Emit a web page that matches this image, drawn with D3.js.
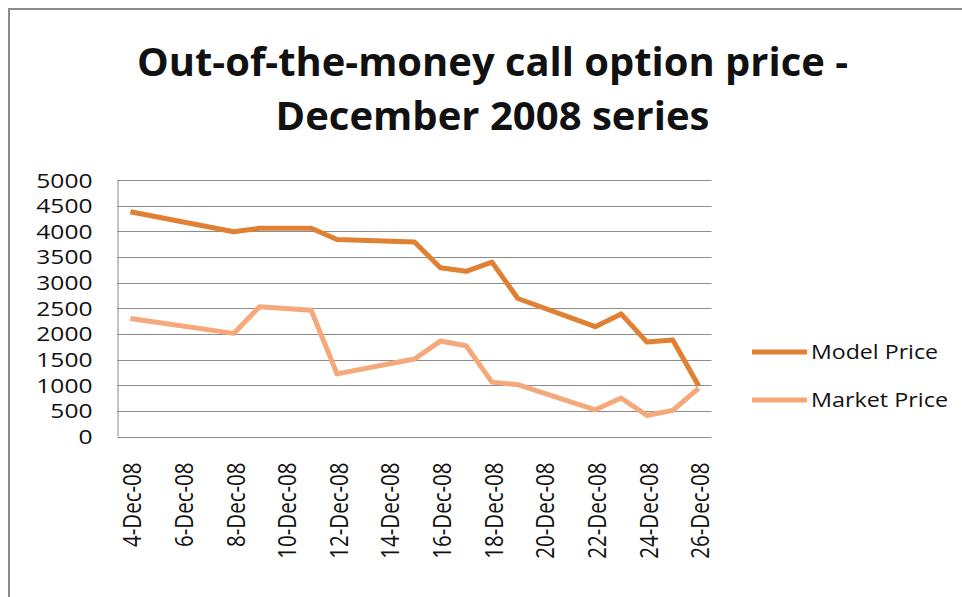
<!DOCTYPE html>
<html>
<head>
<meta charset="utf-8">
<script src="https://cdn.jsdelivr.net/npm/d3@7"></script>
<style>
	body { margin: 0; background: #fff; }
	text { font-family: "Open Sans", sans-serif; fill: #111; }
</style>
</head>
<body>
<div id="chart"></div>
<script>

// trading days shown on the chart
let dates = ["2008-12-04", "2008-12-08", "2008-12-09", "2008-12-11", "2008-12-12",
	"2008-12-15", "2008-12-16", "2008-12-17", "2008-12-18", "2008-12-19",
	"2008-12-22", "2008-12-23", "2008-12-24", "2008-12-25", "2008-12-26"];

let modelPrice = [4380, 3990, 4060, 4060, 3840, 3790, 3290, 3220, 3400, 2690, 2140, 2390, 1840, 1880, 990];
let marketPrice = [2300, 2010, 2530, 2460, 1220, 1510, 1860, 1770, 1060, 1010, 520, 750, 410, 510, 940];

let seriesNames = ["Model Price", "Market Price"];
let seriesColors = ["#E08033", "#F5A97B"];

let yTicks = [0, 500, 1000, 1500, 2000, 2500, 3000, 3500, 4000, 4500, 5000];
let xTickDays = ["2008-12-04", "2008-12-06", "2008-12-08", "2008-12-10", "2008-12-12", "2008-12-14",
	"2008-12-16", "2008-12-18", "2008-12-20", "2008-12-22", "2008-12-24", "2008-12-26"];

let titleLines = ["Out-of-the-money call option price -", "December 2008 series"];

let parseDay = d3.timeParse("%Y-%m-%d");
// each day is a category: put marks in the middle of it
let midDay = d => d3.timeHour.offset(parseDay(d), 12);

let width = 962, height = 597;
let plot = {left: 117.5, right: 711.5, top: 180, bottom: 436.5};
let stretch = 1.26;

let svg = d3.select("#chart").append("svg")
	.attr("width", width)
	.attr("height", height);

// outer chart border (runs off the page on the right/bottom)
svg.append("path")
	.attr("d", "M9," + height + " V9 H" + width)
	.attr("fill", "none")
	.attr("stroke", "#8a8a8a")
	.attr("stroke-width", 2);

// title
let titleBase = [76, 130];
let titleWidth = [711, 434];
svg.selectAll("text.title")
	.data(titleLines)
	.enter()
	.append("text")
	.attr("class", "title")
	.attr("x", 492.5)
	.attr("y", (d, i) => titleBase[i])
	.attr("text-anchor", "middle")
	.attr("textLength", (d, i) => titleWidth[i])
	.attr("lengthAdjust", "spacingAndGlyphs")
	.style("font-size", "39px")
	.style("font-weight", "bold")
	.text(d => d);

let x = d3.scaleTime()
	.domain([parseDay("2008-12-04"), parseDay("2008-12-27")])
	.range([plot.left, plot.right]);

let y = d3.scaleLinear()
	.domain([0, 5000])
	.range([plot.bottom, plot.top]);

// gridlines
svg.append("g")
	.selectAll("line")
	.data(yTicks)
	.enter()
	.append("line")
	.attr("x1", plot.left)
	.attr("x2", plot.right)
	.attr("y1", d => Math.round(y(d)) + 0.5)
	.attr("y2", d => Math.round(y(d)) + 0.5)
	.attr("stroke", "#8c8c8c")
	.attr("stroke-width", 1);

// y axis
let yAxis = d3.axisLeft(y)
	.tickValues(yTicks)
	.tickSize(0)
	.tickFormat(d3.format("d"));

let yAxisGroup = svg.append("g")
	.attr("class", "y-axis")
	.attr("transform", "translate(" + plot.left + ",0)")
	.call(yAxis);

yAxisGroup.select(".domain")
	.attr("stroke", "#8c8c8c")
	.attr("d", "M0.5," + plot.top + "V" + plot.bottom);

yAxisGroup.selectAll("text")
	.attr("x", -25 / stretch)
	.attr("dy", "0.36em")
	.attr("transform", "scale(" + stretch + ",1)")
	.style("font-size", "19.5px")
	.style("fill", "#111");

// x axis labels
let xAxis = d3.axisBottom(x)
	.tickValues(xTickDays.map(midDay))
	.tickSize(0)
	.tickFormat(d3.timeFormat("%-d-%b-%y"));

let xAxisGroup = svg.append("g")
	.attr("class", "x-axis")
	.attr("transform", "translate(0," + plot.bottom + ")")
	.call(xAxis);

xAxisGroup.select(".domain").remove();

xAxisGroup.selectAll("text")
	.attr("x", 0)
	.attr("y", 0)
	.attr("dy", "0.36em")
	.attr("text-anchor", "end")
	.attr("transform", "translate(1,26) scale(" + stretch + ",1) rotate(-90)")
	.style("font-size", "20.5px")
	.style("fill", "#111");

// lines
let seriesData = [modelPrice, marketPrice];
let line = d3.line()
	.x((d, i) => x(midDay(dates[i])))
	.y(d => y(d));

svg.selectAll("path.series")
	.data(seriesData)
	.enter()
	.append("path")
	.attr("class", "series")
	.attr("fill", "none")
	.attr("stroke", (d, i) => seriesColors[i])
	.attr("stroke-width", 5)
	.attr("stroke-linejoin", "round")
	.attr("d", d => line(d));

// legend
let legendY = [352, 400];
let legendWidth = [127, 137];
let legend = svg.selectAll("g.legend")
	.data(seriesNames)
	.enter()
	.append("g")
	.attr("class", "legend")
	.attr("transform", (d, i) => "translate(752," + legendY[i] + ")");

legend.append("line")
	.attr("x1", 0)
	.attr("x2", 55)
	.attr("stroke", (d, i) => seriesColors[i])
	.attr("stroke-width", 5);

legend.append("text")
	.attr("x", 59)
	.attr("dy", "0.36em")
	.attr("textLength", (d, i) => legendWidth[i])
	.attr("lengthAdjust", "spacingAndGlyphs")
	.style("font-size", "20.5px")
	.text(d => d);

</script>
</body>
</html>
